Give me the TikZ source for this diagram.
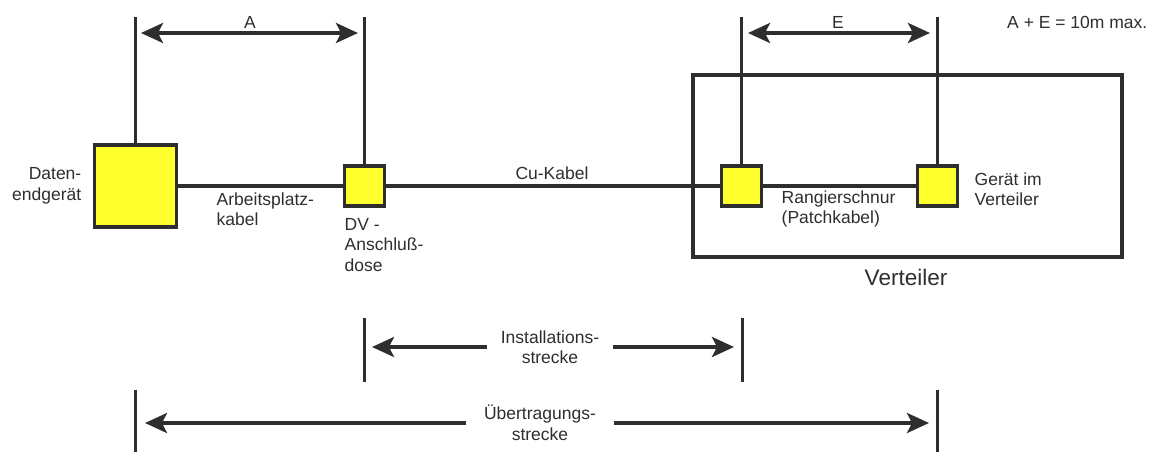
\documentclass[tikz,border=0pt]{standalone}
\usepackage{fontspec}
\setmainfont{Liberation Sans}
\usetikzlibrary{arrows.meta}
\definecolor{linegray}{HTML}{2E2E2E}
\definecolor{boxyellow}{HTML}{FFFF2E}
\begin{document}
\begin{tikzpicture}[x=1pt,y=-1pt,color=linegray,line width=3.4pt,
    >={Stealth[length=22pt,width=20pt,inset=5pt]}]
	\tikzstyle{unit}=[draw,fill=boxyellow,shape=rectangle,inner sep=0pt]
	\tikzstyle{txt}=[font=\fontsize{17.5}{20.5}\selectfont,inner sep=0pt]
	\tikzstyle{bar}=[line width=3pt]
	\useasboundingbox (0,0) rectangle (1152,452);

	% Geraete und Dosen
	\node[unit,minimum size=82pt](dte) at (135.5,186){};
	\node[unit,minimum size=40pt](dv) at (364.5,186){};
	\node[unit,minimum size=40pt](rs) at (741.5,186){};
	\node[unit,minimum size=40pt](gv) at (937.5,186){};
	\node[draw,minimum width=429pt,minimum height=182pt,inner sep=0pt](vt) at (907.5,166){};

	% Kabel
	\draw (dte) -- (dv);
	\draw (dv) -- (rs);
	\draw (rs) -- (gv);

	% Masslinien oben
	\coordinate (t0) at (135.5,17);
	\coordinate (t1) at (364.5,17);
	\coordinate (t2) at (741.5,17);
	\coordinate (t3) at (937.5,17);
	\draw (dte.north) -- (t0);
	\draw (dv.north) -- (t1);
	\draw (rs.north) -- (t2);
	\draw (gv.north) -- (t3);

	\coordinate (a0) at (141,33);
	\coordinate (a1) at (358,33);
	\coordinate (e0) at (748,33);
	\coordinate (e1) at (930,33);
	\draw[<->] (a0) -- (a1);
	\draw[<->] (e0) -- (e1);

	\node[txt](la) at (250,22){A};
	\node[txt](le) at (838,22){E};
	\node[txt,anchor=east](max) at (1149,22){A + E = 10m max.};

	% Beschriftungen
	\node[txt,align=right,anchor=east](tdte) at (83,186){Daten-\\endgerät};
	\node[txt,align=left,anchor=west](tap) at (215,209){Arbeitsplatz-\\kabel};
	\node[txt](tcu) at (552,173){Cu-Kabel};
	\node[txt,align=left,anchor=west](tdv) at (343,245){DV -\\Anschluß-\\dose};
	\node[txt,align=left,anchor=west](trs) at (780,209){Rangierschnur\\(Patchkabel)};
	\node[txt,align=left,anchor=west](tgv) at (973,189){Gerät im\\Verteiler};
	\node[font=\fontsize{22.5}{26}\selectfont,inner sep=0pt](tvt) at (906,277){Verteiler};

	% Strecken unten
	\coordinate (i0) at (364,318);
	\coordinate (i1) at (364,382);
	\coordinate (i2) at (742,318);
	\coordinate (i3) at (742,382);
	\draw[bar] (i0) -- (i1);
	\draw[bar] (i2) -- (i3);
	\node[txt,align=center,inner xsep=12pt](inst) at (550,347){Installations-\\strecke};
	\coordinate (il) at (372,347);
	\coordinate (ir) at (734,347);
	\draw[->] (inst.west) -- (il);
	\draw[->] (inst.east) -- (ir);

	\coordinate (u0) at (135,390);
	\coordinate (u1) at (135,452);
	\coordinate (u2) at (937,390);
	\coordinate (u3) at (937,452);
	\draw[bar] (u0) -- (u1);
	\draw[bar] (u2) -- (u3);
	\node[txt,align=center,inner xsep=16pt](uebt) at (540,423){Übertragungs-\\strecke};
	\coordinate (ul) at (145,423);
	\coordinate (ur) at (929,423);
	\draw[->] (uebt.west) -- (ul);
	\draw[->] (uebt.east) -- (ur);
\end{tikzpicture}
\end{document}
